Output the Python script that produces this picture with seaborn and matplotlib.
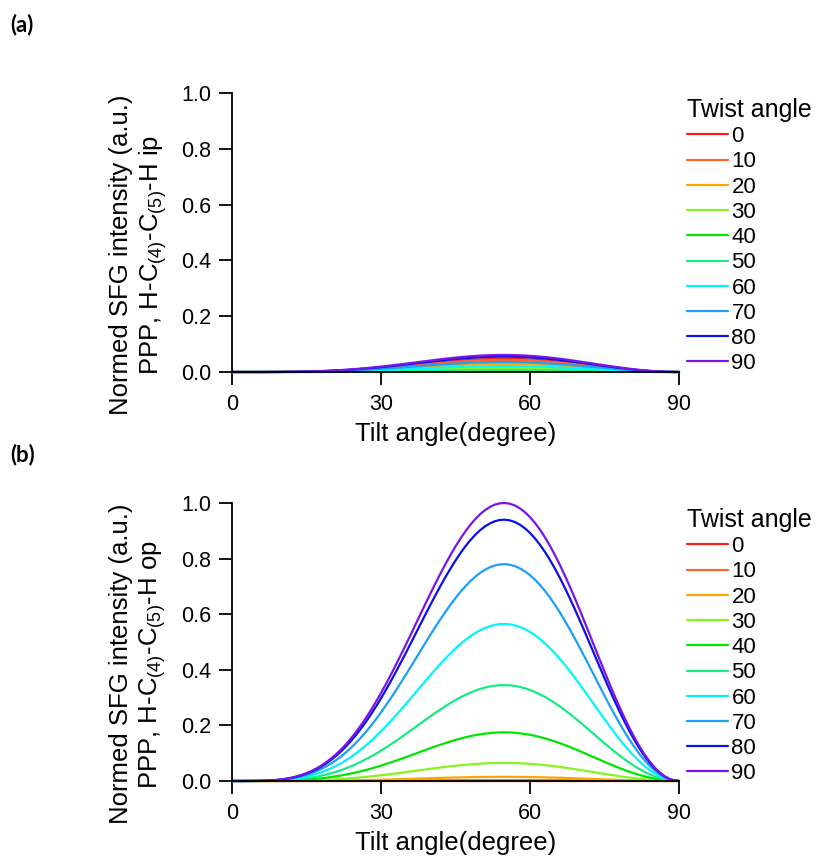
import matplotlib
matplotlib.use("Agg")
import matplotlib.pyplot as plt
import seaborn as sns
import pandas as pd

# ---- data ----
tilt = list(range(0, 91))  # tilt angle, degrees (1 degree steps)
# normalised tilt profile (read from the twist = 90 curve of panel b)
profile = [0.0, 0.0, 0.0, 0.0001, 0.0002, 0.0004, 0.0008, 0.0015, 0.0025, 0.0039,
           0.0060, 0.0086, 0.0121, 0.0164, 0.0218, 0.0283, 0.0360, 0.0451, 0.0557, 0.0678,
           0.0816, 0.0970, 0.1143, 0.1333, 0.1542, 0.1769, 0.2014, 0.2276, 0.2556, 0.2853,
           0.3164, 0.3490, 0.3828, 0.4178, 0.4536, 0.4902, 0.5273, 0.5647, 0.6022, 0.6394,
           0.6762, 0.7123, 0.7473, 0.7811, 0.8133, 0.8438, 0.8721, 0.8982, 0.9218, 0.9426,
           0.9604, 0.9751, 0.9865, 0.9945, 0.9990, 0.9999, 0.9971, 0.9906, 0.9804, 0.9666,
           0.9492, 0.9284, 0.9042, 0.8768, 0.8465, 0.8134, 0.7778, 0.7399, 0.7000, 0.6585,
           0.6157, 0.5718, 0.5273, 0.4826, 0.4379, 0.3936, 0.3502, 0.3079, 0.2671, 0.2282,
           0.1915, 0.1572, 0.1257, 0.0973, 0.0722, 0.0505, 0.0325, 0.0184, 0.0082, 0.0021,
           0.0]
twist = [0, 10, 20, 30, 40, 50, 60, 70, 80, 90]
twist_labels = [str(t) for t in twist]
peak_ip = [0.047, 0.043, 0.029, 0.014, 0.002, 0.007, 0.021, 0.036, 0.055, 0.061]
peak_op = [0.0, 0.003, 0.015, 0.065, 0.175, 0.345, 0.565, 0.78, 0.94, 1.0]
colors = ["#ff1a1a", "#ff6428", "#ffa500", "#84f520", "#00e600",
          "#19eb84", "#00f5ff", "#1aa0f5", "#0a10e6", "#7a14e6"]
xticks = [0, 30, 60, 90]
yticks = [0.0, 0.2, 0.4, 0.6, 0.8, 1.0]

panels = [
    ("(a)", peak_ip, "Normed SFG intensity (a.u.)\nPPP, H-C$_{(4)}$-C$_{(5)}$-H ip"),
    ("(b)", peak_op, "Normed SFG intensity (a.u.)\nPPP, H-C$_{(4)}$-C$_{(5)}$-H op"),
]

sns.set_style("ticks")
plt.rcParams["font.family"] = ["Liberation Sans", "DejaVu Sans"]
plt.rcParams["mathtext.default"] = "regular"
for k in ("text.color", "axes.labelcolor", "xtick.color", "ytick.color", "axes.edgecolor"):
    plt.rcParams[k] = "black"

W, H = 822, 863
fig = plt.figure(figsize=(W / 100, H / 100), dpi=100)

axes_px = [(93, 372), (503, 781)]
left_px, right_px = 232, 679
legend_top = [98, 508]
tag_y = [25, 455]

for i, (tag, peaks, ylab) in enumerate(panels):
    top, bot = axes_px[i]
    ax = fig.add_axes([left_px / W, 1 - bot / H, (right_px - left_px) / W, (bot - top) / H])
    rows = []
    for tw, pk in zip(twist_labels, peaks):
        for x, p in zip(tilt, profile):
            rows.append({"tilt": x, "value": p * pk, "twist": tw})
    df = pd.DataFrame(rows)
    sns.lineplot(data=df, x="tilt", y="value", hue="twist", hue_order=twist_labels,
                 palette=colors, linewidth=1.6, ax=ax, legend=True, sort=False)
    for ln in ax.lines:
        ln.set_clip_on(False)
    ax.set_xlim(0, 90)
    ax.set_ylim(0, 1)
    ax.set_xticks(xticks)
    ax.set_yticks(yticks)
    ax.set_yticklabels([f"{v:.1f}" for v in yticks])
    sns.despine(ax=ax)
    for s in ("left", "bottom"):
        ax.spines[s].set_linewidth(1.3)
        ax.spines[s].set_color("black")
    ax.tick_params(axis="both", direction="out", length=9.5, width=1.3, color="black",
                   labelsize=15.5, labelcolor="black")
    ax.tick_params(axis="x", pad=6.5)
    ax.tick_params(axis="y", pad=5.5)
    ax.set_xlabel("Tilt angle(degree)", fontsize=18.5, labelpad=5, color="black")
    ax.set_ylabel(ylab, fontsize=18.5, color="black", va="center", linespacing=1.2)
    ax.yaxis.set_label_coords(-0.209, 0.42)

    h, l = ax.get_legend_handles_labels()
    ax.get_legend().remove()
    leg = ax.legend(h, l, title="Twist angle", loc="upper left",
                    bbox_to_anchor=(687 / W, 1 - legend_top[i] / H),
                    bbox_transform=fig.transFigure, frameon=False, fontsize=16,
                    title_fontsize=18, borderpad=0, borderaxespad=0,
                    handlelength=1.85, handletextpad=0.15, labelspacing=0.19,
                    alignment="left")
    for lh in leg.get_lines():
        lh.set_linewidth(1.6)

    fig.text(10 / W, 1 - tag_y[i] / H, tag, fontsize=16, fontweight="bold",
             family=["Lato", "DejaVu Sans"], va="center", ha="left")

fig.savefig("out.png", dpi=100)
